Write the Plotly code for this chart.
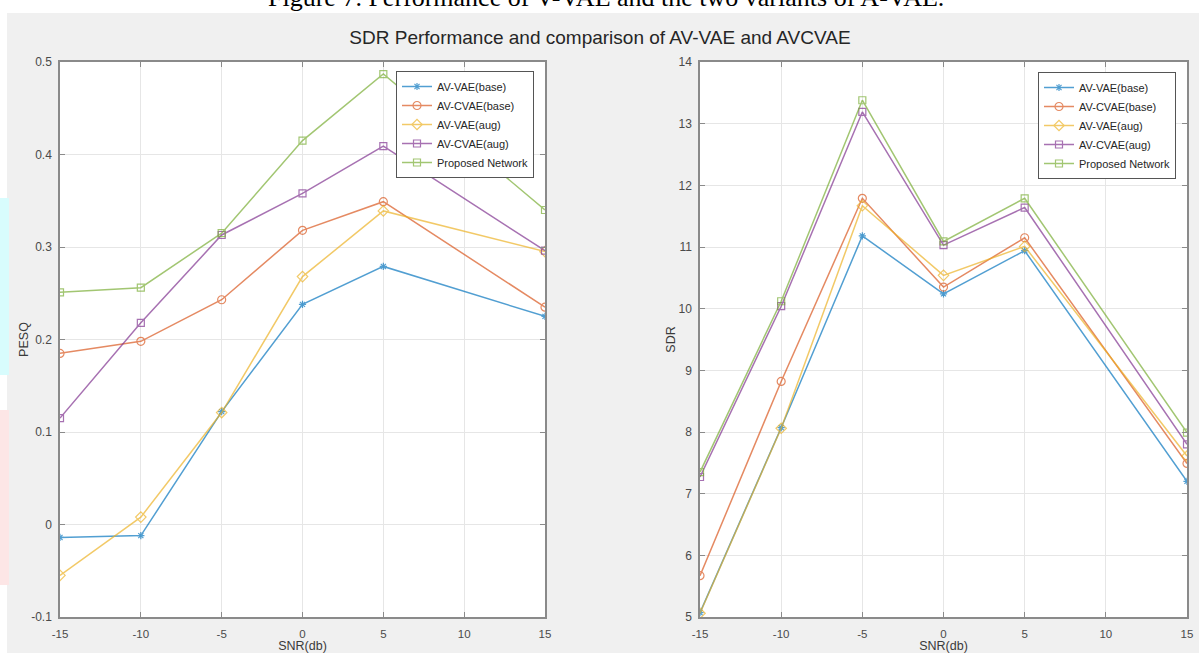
import plotly.graph_objects as go

W, H = 1199, 653

snr = [-15, -10, -5, 0, 5, 15]
series_names = ["AV-VAE(base)", "AV-CVAE(base)", "AV-VAE(aug)", "AV-CVAE(aug)", "Proposed Network"]

pesq_av_vae_base = [-0.014, -0.012, 0.122, 0.238, 0.279, 0.225]
pesq_av_cvae_base = [0.185, 0.198, 0.243, 0.318, 0.349, 0.235]
pesq_av_vae_aug = [-0.055, 0.008, 0.121, 0.268, 0.339, 0.295]
pesq_av_cvae_aug = [0.115, 0.218, 0.313, 0.358, 0.409, 0.296]
pesq_proposed = [0.251, 0.256, 0.315, 0.415, 0.487, 0.340]

sdr_av_vae_base = [5.07, 8.07, 11.18, 10.24, 10.94, 7.20]
sdr_av_cvae_base = [5.67, 8.82, 11.79, 10.35, 11.15, 7.49]
sdr_av_vae_aug = [5.06, 8.06, 11.67, 10.54, 11.01, 7.61]
sdr_av_cvae_aug = [7.27, 10.04, 13.19, 11.03, 11.64, 7.80]
sdr_proposed = [7.35, 10.12, 13.38, 11.09, 11.79, 7.99]

x_tickvals = [-15, -10, -5, 0, 5, 10, 15]
x_ticktext = ["-15", "-10", "-5", "0", "5", "10", "15"]
pesq_tickvals = [-0.1, 0, 0.1, 0.2, 0.3, 0.4, 0.5]
pesq_ticktext = ["-0.1", "0", "0.1", "0.2", "0.3", "0.4", "0.5"]
sdr_tickvals = [5, 6, 7, 8, 9, 10, 11, 12, 13, 14]
sdr_ticktext = ["5", "6", "7", "8", "9", "10", "11", "12", "13", "14"]

pesq_series = [pesq_av_vae_base, pesq_av_cvae_base, pesq_av_vae_aug, pesq_av_cvae_aug, pesq_proposed]
sdr_series = [sdr_av_vae_base, sdr_av_cvae_base, sdr_av_vae_aug, sdr_av_cvae_aug, sdr_proposed]

colors = ["#0072BD", "#D95319", "#EDB120", "#7E2F8E", "#77AC30"]
symbols = ["asterisk-open", "circle-open", "diamond-open", "square-open", "square-open"]
msizes = [6, 8, 8, 7, 7]

FONT = "Liberation Sans, Arial, sans-serif"

fig = go.Figure()
for i, name in enumerate(series_names):
    for xa, ya, vals, leg in (("x", "y", pesq_series[i], "legend"), ("x2", "y2", sdr_series[i], "legend2")):
        fig.add_trace(go.Scatter(
            x=snr, y=vals, name=name, xaxis=xa, yaxis=ya, legend=leg,
            mode="lines+markers", opacity=0.68,
            line=dict(color=colors[i], width=1.5),
            marker=dict(symbol=symbols[i], size=msizes[i], color=colors[i],
                        line=dict(color=colors[i], width=1.2)),
        ))

def px_x(p):
    return p / W

def px_y(p):
    return 1 - p / H

axis_common = dict(
    showline=True, linecolor="#8a8a8a", linewidth=1.5, mirror="ticks",
    ticks="inside", ticklen=5, tickcolor="#8a8a8a", tickwidth=1,
    showgrid=True, gridcolor="#e6e6e6", gridwidth=1, zeroline=False,
    automargin=False,
)
yfont = dict(family=FONT, size=12, color="#4a4a4a")
xfont = dict(family=FONT, size=11.5, color="#4a4a4a")
title_font = dict(family=FONT, size=12.5, color="#3a3a3a")

fig.update_layout(
    width=W, height=H,
    margin=dict(l=0, r=0, t=0, b=0, pad=0, autoexpand=False),
    paper_bgcolor="#f0f0f0", plot_bgcolor="white",
    showlegend=True,
    xaxis=dict(domain=[px_x(60), px_x(545)], range=[-15, 15], tickvals=x_tickvals, ticktext=x_ticktext,
               ticklabelstandoff=5, tickfont=xfont,
               title=dict(text="SNR(db)", font=title_font, standoff=1),
               **axis_common),
    yaxis=dict(domain=[px_y(617), px_y(62)], range=[-0.1, 0.5], tickvals=pesq_tickvals, ticktext=pesq_ticktext,
               ticklabelstandoff=4, tickfont=yfont,
               title=dict(text="PESQ", font=title_font, standoff=0),
               **axis_common),
    xaxis2=dict(domain=[px_x(700), px_x(1187)], range=[-15, 15], tickvals=x_tickvals, ticktext=x_ticktext,
                anchor="y2", ticklabelstandoff=5, tickfont=xfont,
                title=dict(text="SNR(db)", font=title_font, standoff=1),
                **axis_common),
    yaxis2=dict(domain=[px_y(617), px_y(62)], range=[5, 14], tickvals=sdr_tickvals, ticktext=sdr_ticktext,
                anchor="x2", ticklabelstandoff=4, tickfont=yfont,
                title=dict(text="SDR", font=title_font, standoff=0),
                **axis_common),
    legend=dict(x=px_x(534), xanchor="right", y=px_y(71), yanchor="top",
                bgcolor="white", bordercolor="#555555", borderwidth=1,
                font=dict(family=FONT, size=11, color="#262626"), itemwidth=30, tracegroupgap=0),
    legend2=dict(x=px_x(1176), xanchor="right", y=px_y(72), yanchor="top",
                 bgcolor="white", bordercolor="#555555", borderwidth=1,
                 font=dict(family=FONT, size=11, color="#262626"), itemwidth=30, tracegroupgap=0),
    title=dict(text="SDR Performance and comparison of AV-VAE and AVCVAE",
               x=600 / W, xanchor="center", y=px_y(37), yanchor="middle", automargin=False,
               font=dict(family=FONT, size=19, color="#262626")),
    shapes=[
        dict(type="rect", xref="paper", yref="paper", x0=0, x1=1, y0=px_y(13), y1=1,
             fillcolor="white", line=dict(width=0), layer="below"),
        dict(type="rect", xref="paper", yref="paper", x0=0, x1=px_x(7), y0=0, y1=1,
             fillcolor="white", line=dict(width=0), layer="below"),
        dict(type="rect", xref="paper", yref="paper", x0=0, x1=px_x(9), y0=px_y(375), y1=px_y(198),
             fillcolor="#d8fcfd", line=dict(width=0), layer="below"),
        dict(type="rect", xref="paper", yref="paper", x0=0, x1=px_x(9), y0=px_y(585), y1=px_y(410),
             fillcolor="#fde6e6", line=dict(width=0), layer="below"),
    ],
    annotations=[
        dict(text="Figure 7. Performance of V-VAE and the two variants of A-VAE.",
             xref="paper", yref="paper", x=606 / W, y=px_y(-2), xanchor="center", yanchor="middle",
             showarrow=False, font=dict(family="Liberation Serif, Times New Roman, serif", size=26, color="black")),
    ],
)

fig.write_html("out.html", config={"displayModeBar": False},
               post_script="document.body.style.margin='0';document.body.style.overflow='hidden';")
